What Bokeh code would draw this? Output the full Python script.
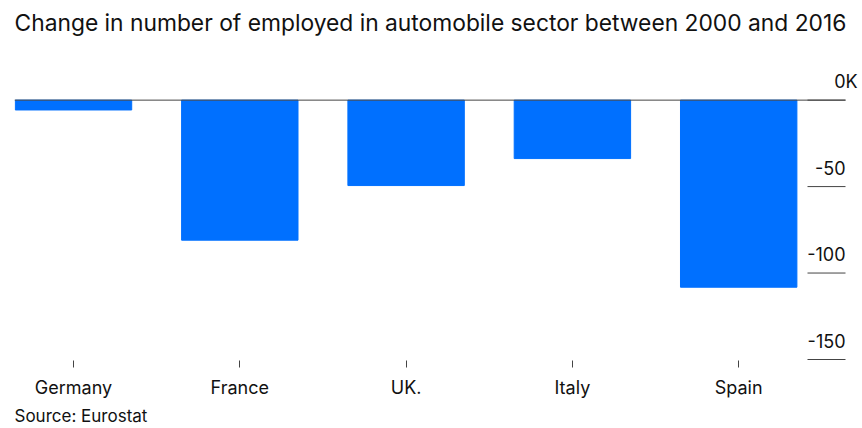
from bokeh.plotting import figure
from bokeh.models import Range1d, FixedTicker, Title
from bokeh.embed import file_html
from bokeh.resources import INLINE
from bokeh.core.properties import value

# ---- data ----
countries = ["Germany", "France", "UK.", "Italy", "Spain"]
change_k = [-5.7, -81.0, -49.4, -33.8, -108.2]
y_ticks = [0, -50, -100, -150]
y_tick_labels = ["0", "-50", "-100", "-150"]
y_unit_suffix = "K"
title_text = "Change in number of employed in automobile sector between 2000 and 2016"
source_text = "Source: Eurostat"

# ---- style / layout ----
FONT = "Inter"
BAR = "#0070FF"
INK = "#111111"
RULE = "#444444"

W, H = 862, 428
LEFT, TOP, BOTTOM = 14, 40, 362
SLOT = 166.3           # px per category
FIRST = 73             # px centre of first category
X_MIN = (LEFT - FIRST) / SLOT
X_MAX = (W - FIRST) / SLOT
X_LABEL = (845 - FIRST) / SLOT
X_RULE0 = (807 - FIRST) / SLOT
PX_PER_UNIT = 1.74
ZERO_PX = 100
Y_MAX = (ZERO_PX - TOP) / PX_PER_UNIT
Y_MIN = -(BOTTOM - ZERO_PX) / PX_PER_UNIT
LIFT = 9 / PX_PER_UNIT          # value labels sit above their rules

x_pos = list(range(len(countries)))
n = len(y_ticks)
label_y = [t + LIFT for t in y_ticks]

p = figure(width=W, height=H, output_backend="svg", toolbar_location=None, tools="",
           x_range=Range1d(X_MIN, X_MAX), y_range=Range1d(Y_MIN, Y_MAX),
           y_axis_location=None,
           min_border_left=LEFT, min_border_right=0, min_border_top=TOP,
           min_border_bottom=H - BOTTOM,
           outline_line_color=None, background_fill_color="white", border_fill_color="white")
p.grid.visible = False

p.title.text = title_text
p.title.align = "left"
p.title.text_font = FONT
p.title.text_font_size = "22.8px"
p.title.text_font_style = "normal"
p.title.text_color = INK
p.title.standoff = 10

xa = p.xaxis[0]
xa.ticker = FixedTicker(ticks=x_pos)
xa.major_label_overrides = {i: c for i, c in zip(x_pos, countries)}
xa.axis_line_color = None
xa.major_tick_in = 0
xa.major_tick_out = 7
xa.major_tick_line_color = RULE
xa.minor_tick_line_color = None
xa.major_label_text_font = FONT
xa.major_label_text_font_size = "18px"
xa.major_label_text_color = INK
xa.major_label_standoff = 9

p.vbar(x=x_pos, top=change_k, bottom=0, width=0.7, fill_color=BAR, line_color=BAR)

# zero line (runs from the frame edge to the label column)
p.segment(x0=[X_MIN], x1=[X_LABEL], y0=[0], y1=[0], line_color=RULE, line_width=1)

# value-axis tick rules and labels
p.segment(x0=[X_RULE0] * n, x1=[X_LABEL] * n, y0=y_ticks, y1=y_ticks,
          line_color=RULE, line_width=1)
p.text(x=[X_LABEL] * n, y=label_y, text=y_tick_labels,
       text_align="right", text_baseline="alphabetic", y_offset=-10,
       text_font=value(FONT), text_font_size="18px", text_color=INK)
p.text(x=[X_LABEL], y=[label_y[0]], text=[y_unit_suffix],
       text_align="left", text_baseline="alphabetic", y_offset=-10,
       text_font=value(FONT), text_font_size="18px", text_color=INK)

p.add_layout(Title(text=source_text, align="left", text_font=FONT, text_font_size="17px",
                   text_font_style="normal", text_color=INK, standoff=6), "below")

open("out.html", "w").write(file_html(p, INLINE))
